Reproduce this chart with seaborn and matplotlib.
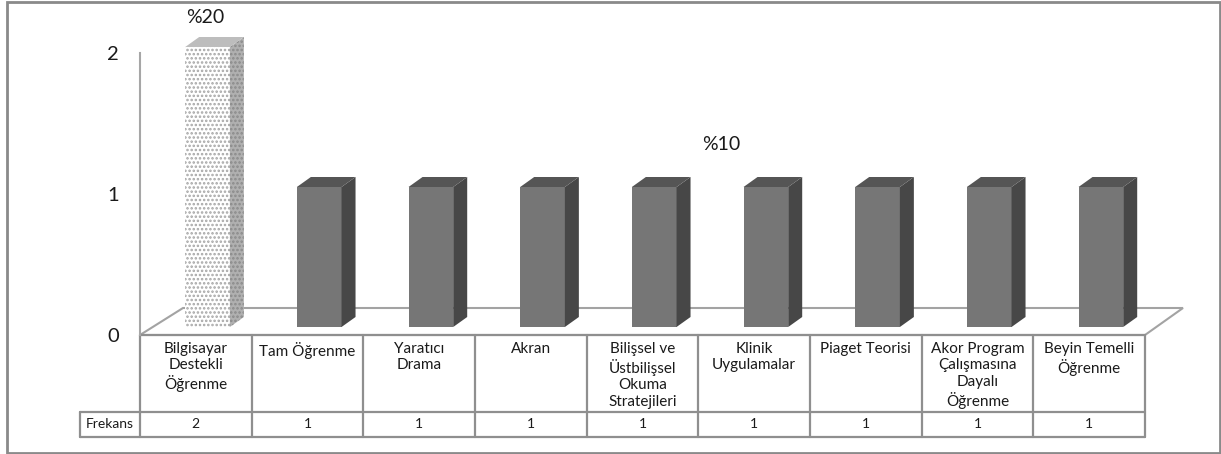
import numpy as np
import pandas as pd
import matplotlib
matplotlib.use("Agg")
import matplotlib.pyplot as plt
import seaborn as sns
from matplotlib.patches import Polygon, Rectangle

# ---------------- data ----------------
categories = [
    "Bilgisayar Destekli Öğrenme", "Tam Öğrenme", "Yaratıcı Drama", "Akran",
    "Bilişsel ve Üstbilişsel Okuma Stratejileri", "Klinik Uygulamalar",
    "Piaget Teorisi", "Akor Program Çalışmasına Dayalı Öğrenme",
    "Beyin Temelli Öğrenme",
]
column_labels = [
    "Bilgisayar\nDestekli\nÖğrenme", "Tam Öğrenme", "Yaratıcı\nDrama", "Akran",
    "Bilişsel ve\nÜstbilişsel\nOkuma\nStratejileri", "Klinik\nUygulamalar",
    "Piaget Teorisi", "Akor Program\nÇalışmasına\nDayalı\nÖğrenme",
    "Beyin Temelli\nÖğrenme",
]
frequencies = [2, 1, 1, 1, 1, 1, 1, 1, 1]
row_header = "Frekans"
percent_labels = ["%20", "%10"]
y_ticks = [0, 1, 2]

# ---------------- style ----------------
W, H = 1221, 454
sns.set_theme(style="white")
plt.rcParams["font.family"] = ["Lato", "DejaVu Sans"]
plt.rcParams["hatch.linewidth"] = 1.2
TXT = "#1a1a1a"
LINE = "#8f8f8f"

fig = plt.figure(figsize=(W / 100, H / 100), dpi=100)
fig.patch.set_facecolor("white")

# overlay in image pixel coordinates (for frame, floor, table)
ov = fig.add_axes([0, 0, 1, 1])
ov.set_xlim(0, W)
ov.set_ylim(H, 0)
ov.axis("off")
ov.set_zorder(0)

# main bar axes
ax = fig.add_axes([151.7 / W, (H - 327) / H, 1005 / W, 280 / H])
ax.set_zorder(1)
ax.patch.set_alpha(0)
df = pd.DataFrame({"cat": categories, "freq": frequencies})
front_colors = ["#ffffff"] + ["#767676"] * (len(categories) - 1)
sns.barplot(data=df, x="cat", y="freq", hue="cat", palette=front_colors,
            width=0.4, legend=False, ax=ax, saturation=1, linewidth=0)
ax.set_xlim(-0.5, len(categories) - 0.5)
ax.set_ylim(0, max(y_ticks))
ax.axis("off")


def to_img(x, y):
    d = ax.transData.transform((x, y))
    return ov.transData.inverted().transform(d)


p0 = ax.transData.transform((0, 0))
p1 = ax.transData.transform((1, 1))
sx, sy = p1[0] - p0[0], p1[1] - p0[1]
DX, DY = 14 / sx, 10 / sy  # bar depth in data units

for i, bar in enumerate(ax.patches):
    x0 = bar.get_x()
    w = bar.get_width()
    h = bar.get_height()
    x1 = x0 + w
    if i == 0:
        bar.set_hatch("....")
        bar.set_edgecolor("#a5a5a5")
        bar.set_linewidth(0)
        side_c, top_c, hatch_c = "#b0b0b0", "#bdbdbd", "#8a8a8a"
    else:
        side_c, top_c, hatch_c = "#474747", "#555555", None
    side = Polygon([(x1, 0), (x1 + DX, DY), (x1 + DX, h + DY), (x1, h)],
                   closed=True, facecolor=side_c, edgecolor=hatch_c or side_c,
                   linewidth=0, clip_on=False, zorder=3)
    if hatch_c:
        side.set_hatch("....")
    top = Polygon([(x0, h), (x1, h), (x1 + DX, h + DY), (x0 + DX, h + DY)],
                  closed=True, facecolor=top_c, edgecolor=top_c,
                  linewidth=0, clip_on=False, zorder=3)
    ax.add_patch(side)
    ax.add_patch(top)

# ---------------- floor & table geometry ----------------
n = len(categories)
shift_x, shift_y = -11.7, 8.0        # floor front offset from bar base
depth_x, depth_y = 43, -27           # floor depth
col_x = [to_img(i - 0.5, 0)[0] + shift_x for i in range(n + 1)]
y_front = to_img(0, 0)[1] + shift_y
y_mid = y_front + 77
y_bot = y_mid + 25
x_head = col_x[0] - 60

floor = Polygon([(col_x[0], y_front), (col_x[0] + depth_x, y_front + depth_y),
                 (col_x[-1] + 38, y_front + depth_y), (col_x[-1], y_front)],
                closed=True, fill=False, edgecolor="#a3a3a3", linewidth=1.5,
                zorder=1)
ov.add_patch(floor)

lw = 1.6
ov.plot([col_x[0], col_x[-1]], [y_front, y_front], color=LINE, lw=lw)
ov.plot([x_head, col_x[-1]], [y_mid, y_mid], color=LINE, lw=lw)
ov.plot([x_head, col_x[-1]], [y_bot, y_bot], color=LINE, lw=lw)
ov.plot([x_head, x_head], [y_mid, y_bot], color=LINE, lw=lw)
for cx in col_x:
    ov.plot([cx, cx], [y_front, y_bot], color=LINE, lw=lw)

for i in range(n):
    cxm = (col_x[i] + col_x[i + 1]) / 2
    ov.text(cxm, y_front + 7, column_labels[i], ha="center", va="top",
            fontsize=11, color=TXT, linespacing=1.22)
    ov.text(cxm, (y_mid + y_bot) / 2, str(frequencies[i]), ha="center",
            va="center", fontsize=10, color=TXT)
ov.text((x_head + col_x[0]) / 2, (y_mid + y_bot) / 2, row_header,
        ha="center", va="center", fontsize=10, color=TXT)

# ---------------- y axis ----------------
ytop = to_img(0, max(y_ticks))[1] + 6
ax_y = fig.add_axes([col_x[0] / W, (H - y_front) / H, 0.0001,
                     (y_front - ytop) / H])
ax_y.set_zorder(1)
ax_y.patch.set_alpha(0)
ax_y.set_ylim(0, max(y_ticks))
ax_y.set_yticks(y_ticks)
ax_y.set_yticklabels([str(t) for t in y_ticks])
ax_y.set_xticks([])
for s in ["top", "right", "bottom"]:
    ax_y.spines[s].set_visible(False)
ax_y.spines["left"].set_color("#a6a6a6")
ax_y.spines["left"].set_linewidth(1.5)
ax_y.tick_params(axis="y", length=0, pad=15, labelsize=14.5, labelcolor=TXT)

# ---------------- percentage labels ----------------
ax.text(0 - 0.02, frequencies[0] + 0.21, percent_labels[0], ha="center",
        va="center", fontsize=14, color=TXT, clip_on=False)
ax.text(4.6, 1.3, percent_labels[1], ha="center", va="center",
        fontsize=14, color=TXT, clip_on=False)

# ---------------- outer frame ----------------
ov.add_patch(Rectangle((7, 2), W - 8, H - 3.5, fill=False,
                       edgecolor="#8a8a8a", linewidth=2, zorder=5))

fig.savefig("out.png", dpi=100, facecolor="white")
